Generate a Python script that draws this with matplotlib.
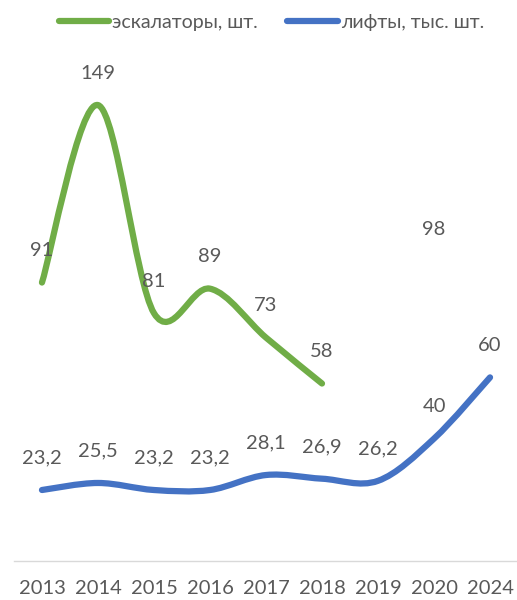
import numpy as np
import matplotlib
matplotlib.use("Agg")
import matplotlib.pyplot as plt
from matplotlib.path import Path
from matplotlib.patches import PathPatch
from matplotlib.lines import Line2D

years = ["2013", "2014", "2015", "2016", "2017", "2018", "2019", "2020", "2024"]
escalators = [91, 149, 81, 89, 73, 58, None, 98, None]
lifts = [23.2, 25.5, 23.2, 23.2, 28.1, 26.9, 26.2, 40, 60]

green = "#70AD47"
blue = "#4472C4"
grey = "#595959"

plt.rcParams["font.family"] = ["Lato", "DejaVu Sans"]


def smooth_path(xs, ys):
    # excel-like smoothed line: catmull-rom turned into cubic bezier pieces
    pts = list(zip(xs, ys))
    verts = [pts[0]]
    codes = [Path.MOVETO]
    n = len(pts)
    for i in range(n - 1):
        p0 = pts[i - 1] if i > 0 else pts[i]
        p1 = pts[i]
        p2 = pts[i + 1]
        p3 = pts[i + 2] if i + 2 < n else pts[i + 1]
        c1 = (p1[0] + (p2[0] - p0[0]) / 6, p1[1] + (p2[1] - p0[1]) / 6)
        c2 = (p2[0] - (p3[0] - p1[0]) / 6, p2[1] - (p3[1] - p1[1]) / 6)
        verts += [c1, c2, p2]
        codes += [Path.CURVE4] * 3
    return Path(verts, codes)


def draw_series(ax, vals, color):
    seg = []
    for i, v in enumerate(vals + [None]):
        if v is None:
            if len(seg) > 1:
                xs = [s[0] for s in seg]
                ys = [s[1] for s in seg]
                ax.add_patch(PathPatch(smooth_path(xs, ys), fill=False, edgecolor=color,
                                       lw=4.5, capstyle="round", joinstyle="round"))
            seg = []
        else:
            seg.append((i, v))
    for i, v in enumerate(vals):
        if v is None:
            continue
        txt = f"{v:g}".replace(".", ",")
        ax.annotate(txt, (i, v), xytext=(0, 23), textcoords="offset points",
                    ha="center", va="center", fontsize=14.5, color=grey)


fig = plt.figure(figsize=(5.17, 6), dpi=100)
ax = fig.add_axes([0.027, 0.065, 0.975, 0.867])

x = np.arange(len(years))
draw_series(ax, escalators, green)
draw_series(ax, lifts, blue)

ax.set_xlim(-0.5, len(years) - 0.5)
ax.set_ylim(0, 170)
ax.set_xticks(x)
ax.set_xticklabels(years, fontsize=14.5, color=grey)
ax.tick_params(axis="x", length=0, pad=14)
ax.set_yticks([])
for side in ["top", "left", "right"]:
    ax.spines[side].set_visible(False)
ax.spines["bottom"].set_color("#D9D9D9")
ax.spines["bottom"].set_linewidth(1)

handles = [Line2D([], [], color=green, lw=4.5, solid_capstyle="round"),
           Line2D([], [], color=blue, lw=4.5, solid_capstyle="round")]
fig.legend(handles, ["эскалаторы, шт.", "лифты, тыс. шт."], loc="center",
           bbox_to_anchor=(0.525, 0.962), ncol=2, frameon=False, fontsize=14,
           handlelength=2.6, handletextpad=0.15, columnspacing=1.5,
           labelcolor=grey)

fig.savefig("out.png", dpi=100)
